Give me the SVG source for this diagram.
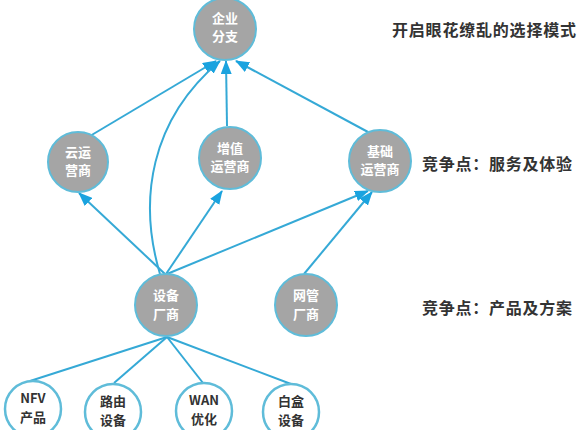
<svg xmlns="http://www.w3.org/2000/svg" width="588" height="430" viewBox="0 0 588 430">
<defs>
<marker id="arr" viewBox="0 0 14 11" refX="13" refY="5.5" markerWidth="14" markerHeight="11" markerUnits="userSpaceOnUse" orient="auto">
<path d="M0,0 L14,5.5 L0,11 Z" fill="#1aa3df"/>
</marker>
<style>
.c{stroke:#35a9d6;stroke-width:2;fill:none}
.g{fill:#a5a5a5;stroke:#5fbcd9;stroke-width:2}
.w{fill:#fff;stroke:#5fbcd9;stroke-width:2.5}
.t{font-family:"Noto Sans CJK SC","Noto Sans",sans-serif;font-size:13px;font-weight:bold;text-anchor:middle;fill:#fff}
.d{font-family:"Noto Sans CJK SC","Noto Sans",sans-serif;font-size:13px;font-weight:bold;text-anchor:middle;fill:#333}
.l{font-family:"Noto Sans CJK SC","Noto Sans",sans-serif;font-size:16px;font-weight:bold;fill:#333}
</style>
</defs>
<rect width="588" height="430" fill="#fff"/>
<g id="connectors">
<path class="c" d="M90,136 L216,61" marker-end="url(#arr)"/>
<path class="c" d="M227,126 L226,61" marker-end="url(#arr)"/>
<path class="c" d="M368,132 L236,61" marker-end="url(#arr)"/>
<path class="c" d="M160,274 C138,200 150,120 220,61" marker-end="url(#arr)"/>
<path class="c" d="M165,274 L79,193" marker-end="url(#arr)"/>
<path class="c" d="M166,274 L222,191" marker-end="url(#arr)"/>
<path class="c" d="M167,274 L368,191" marker-end="url(#arr)"/>
<path class="c" d="M304,274 L372,192" marker-end="url(#arr)"/>
<path class="c" d="M167,337 L30,381"/>
<path class="c" d="M167,337 L114,383"/>
<path class="c" d="M167,337 L203,383"/>
<path class="c" d="M167,337 L291,384"/>
</g>
<g id="n-enterprise"><circle class="g" cx="225" cy="29" r="31"/><text class="t" x="225" y="23">企业</text><text class="t" x="225" y="41">分支</text></g>
<g id="n-cloud"><circle class="g" cx="78" cy="162" r="30"/><text class="t" x="78" y="157">云运</text><text class="t" x="78" y="175">营商</text></g>
<g id="n-vas"><circle class="g" cx="230" cy="158" r="31"/><text class="t" x="230" y="153">增值</text><text class="t" x="230" y="171">运营商</text></g>
<g id="n-basic"><circle class="g" cx="380" cy="161" r="31"/><text class="t" x="380" y="156">基础</text><text class="t" x="380" y="174">运营商</text></g>
<g id="n-vendor"><circle class="g" cx="166" cy="305" r="31"/><text class="t" x="166" y="300">设备</text><text class="t" x="166" y="319">厂商</text></g>
<g id="n-nms"><circle class="g" cx="306" cy="305" r="31"/><text class="t" x="306" y="300">网管</text><text class="t" x="306" y="319">厂商</text></g>
<g id="n-nfv"><circle class="w" cx="33" cy="409" r="28"/><text class="d" x="33" y="403">NFV</text><text class="d" x="33" y="422">产品</text></g>
<g id="n-router"><circle class="w" cx="113" cy="412" r="28"/><text class="d" x="113" y="406">路由</text><text class="d" x="113" y="425">设备</text></g>
<g id="n-wan"><circle class="w" cx="204" cy="411" r="28"/><text class="d" x="204" y="405">WAN</text><text class="d" x="204" y="424">优化</text></g>
<g id="n-whitebox"><circle class="w" cx="291" cy="412" r="28"/><text class="d" x="291" y="406">白盒</text><text class="d" x="291" y="425">设备</text></g>
<g id="labels">
<text class="l" x="392" y="36" textLength="184">开启眼花缭乱的选择模式</text>
<text class="l" x="422" y="170" textLength="150">竞争点：服务及体验</text>
<text class="l" x="422" y="314" textLength="150">竞争点：产品及方案</text>
</g>
</svg>
